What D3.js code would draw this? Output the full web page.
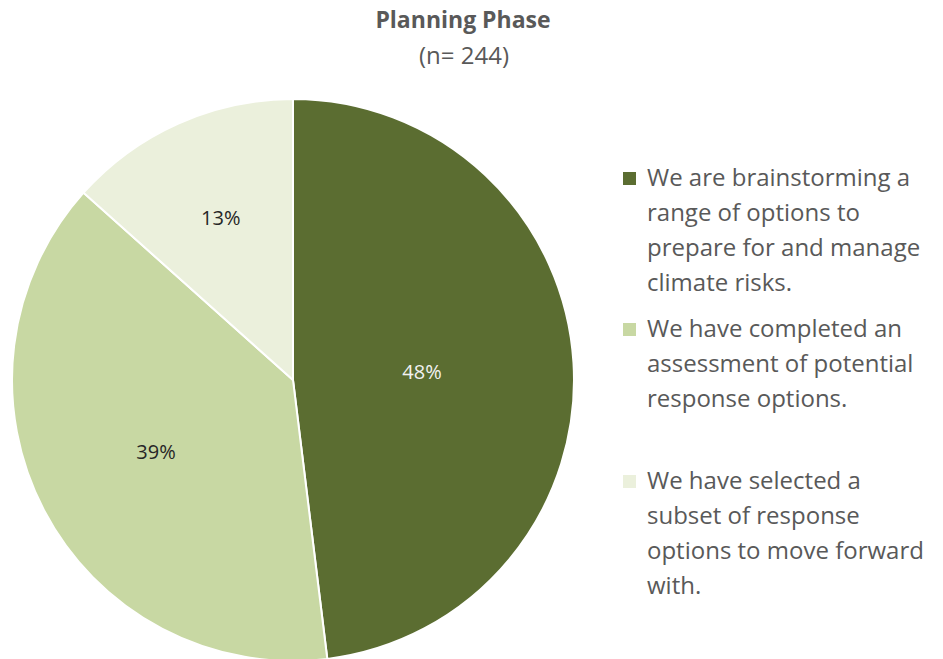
<!DOCTYPE html>
<html>
<head>
<meta charset="utf-8">
<script src="https://cdn.jsdelivr.net/npm/d3@7"></script>
<style>
  body { margin: 0; background: #fff; }
  text { font-family: "Open Sans", sans-serif; }
</style>
</head>
<body>
<div id="chart"></div>
<script>
const categories = [
  'We are brainstorming a range of options to prepare for and manage climate risks.',
  'We have completed an assessment of potential response options.',
  'We have selected a subset of response options to move forward with.'
];
const legendLines = [
  ['We are brainstorming a', 'range of options to', 'prepare for and manage', 'climate risks.'],
  ['We have completed an', 'assessment of potential', 'response options.'],
  ['We have selected a', 'subset of response', 'options to move forward', 'with.']
];
// shares (%)
const shares = [48.1, 38.6, 13.4];
const colors = ['#5b6d31', '#c8d8a3', '#ebf0dc'];
const labelColors = ['#f2f2f2', '#262626', '#262626'];
// how far from the centre each percentage label sits (fraction of radius)
const labelRadius = [0.46, 0.55, 0.63];

const width = 943, height = 659;
const cx = 293, cy = 380, radius = 281;

const svg = d3.select('#chart').append('svg')
    .attr('width', width)
    .attr('height', height);

// title
svg.append('text')
    .attr('x', 463).attr('y', 28)
    .attr('text-anchor', 'middle')
    .style('font-size', '23px')
    .style('font-weight', 'bold')
    .style('fill', '#595959')
    .text('Planning Phase');

svg.append('text')
    .attr('x', 464).attr('y', 64)
    .attr('text-anchor', 'middle')
    .style('font-size', '24px')
    .style('fill', '#595959')
    .text('(n= 244)');

const total = d3.sum(shares);
const data = shares.map((v, i) => ({name: categories[i], value: v, i: i}));

const pie = d3.pie().sort(null).value(d => d.value);
const arc = d3.arc().innerRadius(0).outerRadius(radius);

const g = svg.append('g')
    .attr('transform', 'translate(' + cx + ',' + cy + ')');

const arcs = pie(data);

g.selectAll('path')
    .data(arcs)
  .enter().append('path')
    .attr('d', arc)
    .attr('fill', d => colors[d.data.i])
    .attr('stroke', '#ffffff')
    .attr('stroke-width', 2);

g.selectAll('text.lbl')
    .data(arcs)
  .enter().append('text')
    .attr('class', 'lbl')
    .attr('transform', function(d) {
      const r = radius * labelRadius[d.data.i];
      return 'translate(' + d3.arc().innerRadius(r).outerRadius(r).centroid(d) + ')';
    })
    .attr('text-anchor', 'middle')
    .attr('dy', '0.35em')
    .style('font-size', '20px')
    .style('fill', d => labelColors[d.data.i])
    .text(d => d3.format('.0%')(d.data.value / total));

// legend
const legendTop = [186, 337, 489];
const lineH = 35;
const legend = svg.append('g');

legendLines.forEach(function(lines, i) {
  legend.append('rect')
      .attr('x', 623).attr('y', legendTop[i] - 14)
      .attr('width', 13).attr('height', 13)
      .attr('fill', colors[i]);
  const t = legend.append('text')
      .style('font-size', '24px')
      .style('fill', '#595959');
  lines.forEach(function(l, j) {
    t.append('tspan')
        .attr('x', 647)
        .attr('y', legendTop[i] + j * lineH)
        .text(l);
  });
});
</script>
</body>
</html>
